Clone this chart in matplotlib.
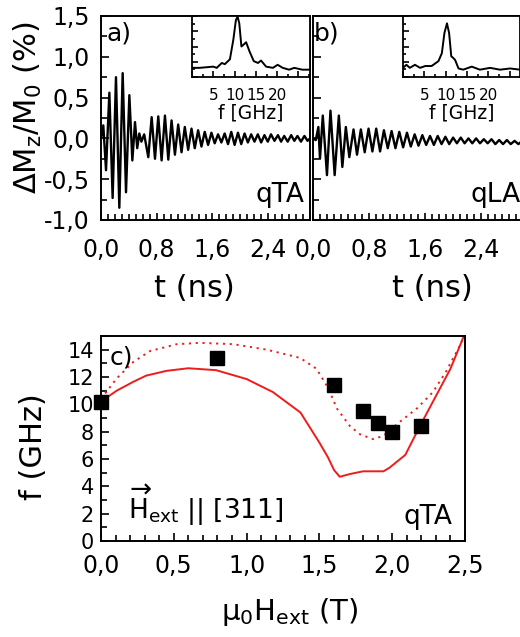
import matplotlib
matplotlib.use("Agg")
import matplotlib.pyplot as plt
from matplotlib.ticker import MultipleLocator, FuncFormatter

plt.rcParams['font.family'] = ['DejaVu Sans']
plt.rcParams['mathtext.fontset'] = 'dejavusans'
plt.rcParams['mathtext.default'] = 'regular'

# ---------------- data ----------------
# panel a (qTA): extrema of the time trace
t_a = [0.0, 0.033, 0.072, 0.12, 0.167, 0.215, 0.263, 0.311, 0.359, 0.407, 0.45, 0.488,
       0.52, 0.55, 0.58, 0.62, 0.679, 0.727, 0.775, 0.822, 0.87, 0.918, 0.966,
       1.013, 1.061, 1.108, 1.156, 1.203, 1.251, 1.299, 1.346, 1.394, 1.442, 1.489,
       1.537, 1.585, 1.632, 1.68, 1.728, 1.775, 1.823, 1.87, 1.918, 1.966, 2.013,
       2.061, 2.108, 2.156, 2.203, 2.251, 2.299, 2.346, 2.394, 2.44, 2.49, 2.54,
       2.585, 2.63, 2.68, 2.73, 2.775, 2.82, 2.87, 2.92, 2.965, 3.0]
m_a = [0.0, 0.16, -0.39, 0.56, -0.73, 0.75, -0.85, 0.80, -0.66, 0.53, -0.27, 0.20,
       -0.12, 0.06, -0.04, 0.05, -0.23, 0.26, -0.25, 0.27, -0.27, 0.28, -0.26,
       0.22, -0.20, 0.17, -0.17, 0.14, -0.14, 0.12, -0.12, 0.10, -0.10, 0.08,
       -0.08, 0.07, -0.06, 0.05, -0.05, 0.06, -0.07, 0.08, -0.08, 0.07, -0.07,
       0.06, -0.05, 0.05, -0.04, 0.05, -0.05, 0.04, -0.04, 0.05, -0.03, 0.04,
       -0.04, 0.03, -0.04, 0.04, -0.03, 0.03, -0.04, 0.03, -0.03, 0.0]

# panel b (qLA)
t_b = [0.0, 0.04, 0.077, 0.10, 0.14, 0.20, 0.25, 0.31, 0.37, 0.42, 0.47, 0.52, 0.58,
       0.63, 0.685, 0.74, 0.795, 0.85, 0.905, 0.96, 1.015, 1.07, 1.125, 1.18, 1.235,
       1.29, 1.345, 1.40, 1.455, 1.51, 1.565, 1.62, 1.675, 1.73, 1.785, 1.84, 1.895,
       1.95, 2.005, 2.06, 2.115, 2.17, 2.225, 2.28, 2.335, 2.39, 2.445, 2.50, 2.555,
       2.61, 2.665, 2.72, 2.775, 2.83, 2.885, 2.94, 2.995]
m_b = [0.0, -0.02, 0.14, -0.25, 0.28, -0.45, 0.34, -0.45, 0.28, -0.35, 0.14, -0.23, 0.11,
       -0.20, 0.11, -0.17, 0.12, -0.16, 0.12, -0.16, 0.10, -0.12, 0.09, -0.12, 0.08,
       -0.11, 0.07, -0.10, 0.05, -0.09, 0.04, -0.08, 0.03, -0.08, 0.03, -0.07, 0.02,
       -0.07, 0.01, -0.06, 0.01, -0.06, 0.0, -0.06, 0.0, -0.06, -0.01, -0.06, -0.01,
       -0.07, -0.02, -0.07, -0.02, -0.07, -0.03, -0.07, -0.03]

# insets: Fourier spectra (normalised)
f_sa = [0.0, 1.8, 3.4, 5.0, 5.8, 7.0, 7.7, 8.9, 9.7, 10.3, 10.7, 11.1, 11.6, 12.1, 12.7,
        13.5, 14.5, 15.5, 16.2, 17.4, 19.0, 20.1, 21.3, 22.8, 24.0, 25.9, 27.7]
s_a = [0.15, 0.15, 0.16, 0.17, 0.15, 0.23, 0.21, 0.29, 0.61, 0.93, 0.99, 0.88, 0.50, 0.53, 0.57,
       0.42, 0.26, 0.23, 0.27, 0.17, 0.15, 0.20, 0.15, 0.12, 0.15, 0.12, 0.12]
f_sb = [0.0, 0.8, 1.6, 2.8, 4.0, 5.2, 6.7, 8.3, 9.1, 9.7, 10.3, 10.8, 11.3, 11.8, 12.2,
        13.0, 14.1, 16.1, 18.0, 20.4, 22.7, 25.1, 27.4]
s_b = [0.15, 0.20, 0.15, 0.20, 0.15, 0.18, 0.18, 0.26, 0.39, 0.72, 0.88, 0.72, 0.34, 0.31, 0.28,
       0.14, 0.12, 0.17, 0.12, 0.15, 0.12, 0.14, 0.12]

# panel c
field_exp = [0.0, 0.8, 1.6, 1.8, 1.9, 2.0, 2.2]
freq_exp = [10.2, 13.4, 11.45, 9.5, 8.6, 7.95, 8.4]
field_solid = [0.0, 0.108, 0.222, 0.31, 0.45, 0.6, 0.79, 1.0, 1.18, 1.37, 1.5, 1.56, 1.6,
               1.64, 1.71, 1.8, 1.94, 1.98, 2.09, 2.19, 2.28, 2.4, 2.5]
freq_solid = [10.2, 11.0, 11.65, 12.1, 12.45, 12.64, 12.5, 11.85, 10.9, 9.4, 7.2, 6.1, 5.2,
              4.7, 4.9, 5.1, 5.1, 5.35, 6.3, 8.4, 10.2, 12.6, 15.2]
field_dot = [0.0, 0.108, 0.222, 0.337, 0.52, 0.68, 0.909, 1.138, 1.367, 1.48, 1.56, 1.62,
             1.71, 1.78, 1.87, 1.94, 2.05, 2.17, 2.28, 2.37, 2.47, 2.5]
freq_dot = [10.4, 11.9, 13.1, 13.9, 14.4, 14.5, 14.4, 14.0, 13.4, 12.6, 11.2, 9.7,
            8.4, 7.8, 7.45, 7.7, 8.7, 9.7, 10.9, 12.4, 14.4, 15.2]

# ---------------- figure ----------------
W, H = 520, 637
fig = plt.figure(figsize=(W / 100, H / 100), dpi=100)

def rect(x0, y0, x1, y1):
    return [x0 / W, 1 - y1 / H, (x1 - x0) / W, (y1 - y0) / H]

comma = FuncFormatter(lambda v, p: ('%.1f' % v).replace('.', ','))
comma_int = FuncFormatter(lambda v, p: '%d' % round(v))

def style(ax, lw=1.4):
    for s in ax.spines.values():
        s.set_linewidth(lw)
    ax.tick_params(which='both', direction='in', top=False, right=False, width=1.2)
    ax.tick_params(which='major', length=6)
    ax.tick_params(which='minor', length=4)

TL = 17   # tick label size
TXT = 18
LAB = 22

# panel a
ax_a = fig.add_axes(rect(101, 16, 310, 220))
ax_a.plot(t_a, m_a, color='black', lw=1.7)
ax_a.set_xlim(0, 3.0)
ax_a.set_ylim(-1.0, 1.5)
style(ax_a)
ax_a.xaxis.set_major_locator(MultipleLocator(0.8))
ax_a.xaxis.set_minor_locator(MultipleLocator(0.1))
ax_a.yaxis.set_major_locator(MultipleLocator(0.5))
ax_a.yaxis.set_minor_locator(MultipleLocator(0.25))
ax_a.xaxis.set_major_formatter(comma)
ax_a.yaxis.set_major_formatter(comma)
ax_a.tick_params(axis='x', which='major', length=5, pad=13, labelsize=TL)
ax_a.tick_params(axis='y', which='major', pad=8, labelsize=TL)
ax_a.text(0.025, 0.975, 'a)', transform=ax_a.transAxes, ha='left', va='top', fontsize=TXT)
ax_a.text(0.975, 0.06, 'qTA', transform=ax_a.transAxes, ha='right', va='bottom', fontsize=TXT + 1)

# panel b
ax_b = fig.add_axes(rect(313, 16, 524, 220))
ax_b.plot(t_b, m_b, color='black', lw=1.7)
ax_b.set_xlim(0, 3.02)
ax_b.set_ylim(-1.0, 1.5)
style(ax_b)
ax_b.xaxis.set_major_locator(MultipleLocator(0.8))
ax_b.xaxis.set_minor_locator(MultipleLocator(0.1))
ax_b.yaxis.set_major_locator(MultipleLocator(0.5))
ax_b.yaxis.set_minor_locator(MultipleLocator(0.25))
ax_b.xaxis.set_major_formatter(comma)
ax_b.tick_params(axis='x', which='major', length=5, pad=13, labelsize=TL)
ax_b.tick_params(axis='y', labelleft=False)
ax_b.text(0.005, 0.975, 'b)', transform=ax_b.transAxes, ha='left', va='top', fontsize=TXT)
ax_b.text(0.985, 0.06, 'qLA', transform=ax_b.transAxes, ha='right', va='bottom', fontsize=TXT + 1)

# axis labels of top row
fig.text(28 / W, 1 - 108 / H, r'$\Delta$M$_z$/M$_0$ (%)', rotation=90,
         ha='center', va='center', fontsize=LAB)
fig.text(194 / W, 1 - 288 / H, 't (ns)', ha='center', va='center', fontsize=LAB)
fig.text(432 / W, 1 - 288 / H, 't (ns)', ha='center', va='center', fontsize=LAB)

# insets
def inset(box, f, s, xmax):
    ax = fig.add_axes(rect(*box))
    ax.plot(f, s, color='black', lw=1.4)
    ax.set_xlim(0, xmax)
    ax.set_ylim(0, 1.0)
    style(ax, lw=1.3)
    ax.tick_params(which='major', length=4)
    ax.tick_params(which='minor', length=2)
    ax.xaxis.set_major_locator(MultipleLocator(5))
    ax.xaxis.set_minor_locator(MultipleLocator(2.5))
    ax.yaxis.set_major_locator(MultipleLocator(0.25))
    ax.yaxis.set_minor_locator(MultipleLocator(0.125))
    ax.tick_params(axis='y', labelleft=False)
    ax.tick_params(axis='x', pad=8, labelsize=11)
    ax.xaxis.set_major_formatter(FuncFormatter(lambda v, p: '%d' % v if 1 <= v <= 20 else ''))
    ax.set_xlabel('f [GHz]', fontsize=13.5, labelpad=0)
    return ax

inset((192, 16, 310, 77), f_sa, s_a, 27.7)
inset((403, 16, 520, 77), f_sb, s_b, 27.4)

# panel c
ax_c = fig.add_axes(rect(101, 336, 465, 541))
ax_c.plot(field_solid, freq_solid, color='#ee1c1c', lw=1.4)
ax_c.plot(field_dot, freq_dot, color='#ee1c1c', lw=1.4, ls=(0, (1.1, 2.4)))
ax_c.plot(field_exp, freq_exp, ls='none', marker='s', ms=9.5, color='black', clip_on=False)
ax_c.set_xlim(0, 2.5)
ax_c.set_ylim(0, 15)
style(ax_c)
ax_c.xaxis.set_major_locator(MultipleLocator(0.5))
ax_c.xaxis.set_minor_locator(MultipleLocator(0.1))
ax_c.yaxis.set_major_locator(MultipleLocator(2))
ax_c.yaxis.set_minor_locator(MultipleLocator(1))
ax_c.xaxis.set_major_formatter(comma)
ax_c.yaxis.set_major_formatter(comma_int)
ax_c.tick_params(axis='x', which='major', length=6, pad=9, labelsize=TL)
ax_c.tick_params(axis='y', which='major', length=6, pad=5, labelsize=15)
ax_c.text(0.025, 0.955, 'c)', transform=ax_c.transAxes, ha='left', va='top', fontsize=TXT)
ax_c.text(0.965, 0.055, 'qTA', transform=ax_c.transAxes, ha='right', va='bottom', fontsize=TXT + 1)
ax_c.text(0.075, 0.065, r'$\overrightarrow{H}_{ext}$ || [311]',
          transform=ax_c.transAxes, ha='left', va='bottom', fontsize=TXT + 1)
fig.text(33 / W, 1 - 447 / H, 'f (GHz)', rotation=90, ha='center', va='center', fontsize=LAB)
fig.text(290 / W, 1 - 612 / H, r'$\mu_0$H$_{ext}$ (T)', ha='center', va='center',
         fontsize=21)

fig.savefig('out.png', dpi=100)
